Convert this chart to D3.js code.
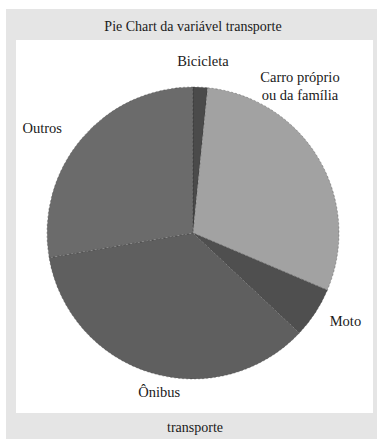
<!DOCTYPE html>
<html>
<head>
<meta charset="utf-8">
<script src="https://cdn.jsdelivr.net/npm/d3@7"></script>
<style>
  body { margin: 0; background: #fff; }
</style>
</head>
<body>
<div class="piechart"></div>
<script>
// transport categories and share (%)
const categories = ["Bicicleta", "Carro próprio\nou da família", "Moto", "Ônibus", "Outros"];
const values = [1.6, 29.8, 5.6, 35.3, 27.7];
const colors = ["#4a4a4a", "#a2a2a2", "#4f4f4f", "#5f5f5f", "#6b6b6b"];
const title = "Pie Chart da variável transporte";
const xLabel = "transporte";

// label placement (angle in degrees from 12 o'clock, radius in px)
const labelLayout = {
    "Bicicleta": { angle: 3.3, r: 172 },
    "Carro próprio\nou da família": { angle: 36, r: 182 },
    "Moto": { angle: 120, r: 176 },
    "Ônibus": { angle: 192, r: 162 },
    "Outros": { angle: 305, r: 184 }
};

const width = 380, height = 439;
const cx = 193, cy = 233, radius = 146;
const serif = "'Liberation Serif', 'Times New Roman', Times, 'DejaVu Serif', serif";

const svg = d3.select(".piechart")
    .append("svg")
    .attr("width", width)
    .attr("height", height)
    .attr("font-family", serif);

// gray background and white panel
svg.append("rect")
    .attr("x", 6).attr("y", 9)
    .attr("width", 371).attr("height", height - 9)
    .attr("fill", "#e5e5e5");
svg.append("rect")
    .attr("x", 16).attr("y", 40)
    .attr("width", 357).attr("height", 373)
    .attr("fill", "#ffffff");

svg.append("text")
    .attr("x", 193).attr("y", 31)
    .attr("text-anchor", "middle")
    .attr("font-family", serif)
    .attr("font-size", 14)
    .attr("fill", "#1a1a1a")
    .text(title);

svg.append("text")
    .attr("x", 195).attr("y", 432)
    .attr("text-anchor", "middle")
    .attr("font-family", serif)
    .attr("font-size", 14)
    .attr("fill", "#1a1a1a")
    .text(xLabel);

const data = categories.map((c, i) => ({ name: c, value: values[i], color: colors[i] }));

const pie = d3.pie().sort(null).value(d => d.value);
const arc = d3.arc().innerRadius(0).outerRadius(radius);

const g = svg.append("g")
    .attr("transform", "translate(" + cx + "," + cy + ")");

g.selectAll(".slice")
    .data(pie(data))
    .enter()
    .append("path")
    .attr("class", "slice")
    .attr("d", arc)
    .attr("fill", d => d.data.color)
    .attr("stroke", "#222")
    .attr("stroke-opacity", 0.55)
    .attr("stroke-width", 0.6)
    .attr("stroke-dasharray", "2,2");

const labels = g.selectAll(".label")
    .data(data)
    .enter()
    .append("text")
    .attr("class", "label")
    .attr("text-anchor", "middle")
    .attr("font-family", serif)
    .attr("font-size", 14.5)
    .attr("fill", "#1a1a1a")
    .attr("transform", function (d) {
        const l = labelLayout[d.name];
        const a = l.angle * Math.PI / 180;
        return "translate(" + (l.r * Math.sin(a)) + "," + (-l.r * Math.cos(a)) + ")";
    });

labels.each(function (d) {
    const lines = d.name.split("\n");
    const t = d3.select(this);
    lines.forEach(function (line, i) {
        t.append("tspan")
            .attr("x", 0)
            .attr("dy", i === 0 ? (0.35 - (lines.length - 1) * 0.6) + "em" : "1.2em")
            .text(line);
    });
});
</script>
</body>
</html>
